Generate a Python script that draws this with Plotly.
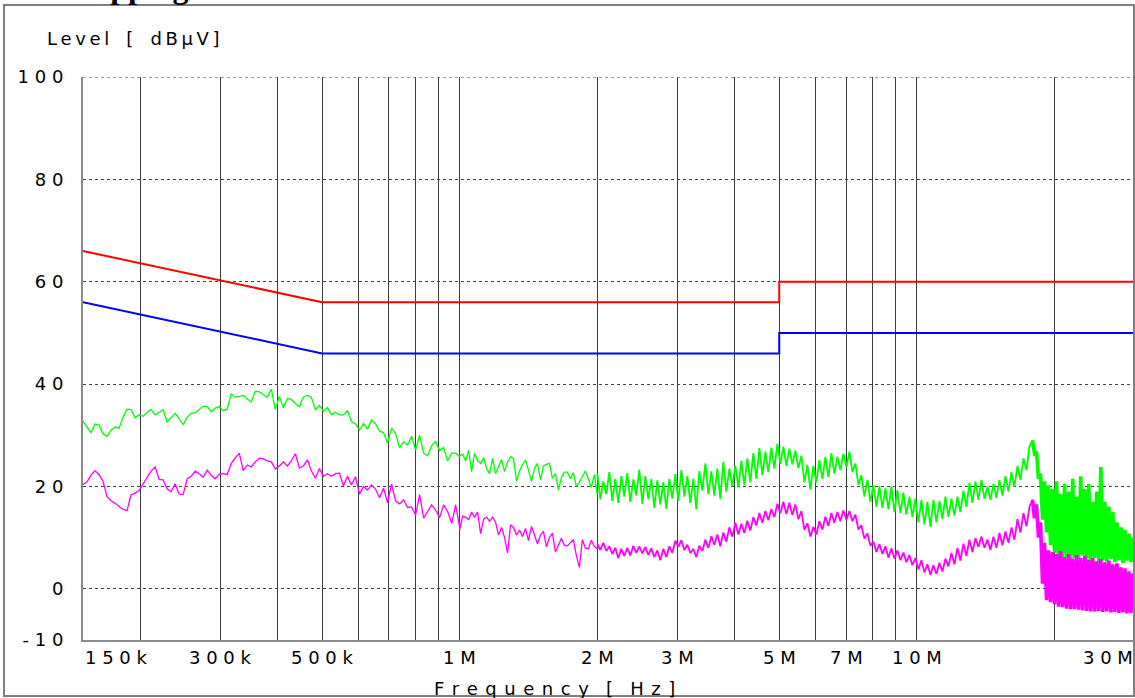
import numpy as np
import plotly.graph_objects as go

# ---------------- data ----------------
# Sweep segments: each list of levels is evenly spaced (log) between its edge frequencies
SEG_EDGES_HZ = [150e3, 1e6, 2e6, 17.9e6, 30e6]

green_150k_1M = [32.7, 31.5, 30.5, 32.2, 32.0, 30.3, 29.8, 31.0, 31.6, 31.4,
                 33.5, 35.1, 35.0, 33.4, 34.0, 33.7, 34.5, 35.0, 34.0, 34.5,
                 35.0, 32.6, 33.4, 34.3, 33.2, 32.1, 33.5, 34.3, 34.4, 35.0,
                 35.7, 35.6, 34.6, 35.3, 35.6, 34.8, 35.1, 38.1, 37.4, 37.6,
                 37.8, 37.1, 36.5, 38.6, 38.5, 37.9, 37.4, 39.0, 35.0, 37.6,
                 35.4, 37.2, 37.0, 36.2, 35.6, 37.5, 37.8, 37.4, 35.0, 35.8,
                 34.7, 35.4, 34.0, 34.5, 34.0, 34.0, 34.8, 32.7, 32.2, 31.0,
                 32.3, 31.2, 33.0, 32.2, 30.8, 30.5, 28.5, 31.4, 30.4, 27.6,
                 28.7, 28.1, 29.8, 27.1, 30.0, 26.5, 26.0, 28.0, 28.8, 27.0,
                 27.6, 25.0, 26.5, 26.5, 25.8]
green_1M_2M = [26.0, 26.3, 25.0, 27.1, 22.9, 26.5, 25.0, 24.5, 25.6, 23.5,
               22.5, 25.5, 22.5, 24.0, 25.2, 22.9, 24.8, 25.8, 25.5, 21.0,
               23.0, 24.2, 25.2, 23.2, 21.0, 23.5, 24.5, 21.3, 24.0, 24.3,
               24.5, 21.6, 22.5, 19.3, 21.7, 22.8, 22.8, 21.5, 22.7, 20.0,
               20.8, 21.9, 23.0, 21.5, 19.8, 22.3, 18.4]
green_2M_18M = [22.5, 17.5, 21.0, 18.5, 22.8, 17.2, 21.5, 16.8, 22.0, 18.0,
                22.6, 17.0, 21.4, 18.2, 23.3, 16.6, 22.0, 17.5, 21.5, 15.8,
                21.2, 16.5, 20.8, 15.6, 21.5, 17.6, 22.4, 17.2, 23.2, 18.0,
                22.0, 16.8, 21.5, 15.5, 23.0, 19.2, 24.5, 18.5, 23.0, 18.2,
                23.5, 17.5, 24.8, 19.0, 23.5, 20.0, 24.0, 19.8, 25.0, 20.2,
                25.5, 20.8, 26.5, 21.5, 27.5, 22.2, 26.8, 22.8, 27.6, 23.5,
                28.3, 24.4, 27.8, 24.0, 27.4, 24.3, 27.0, 23.6, 26.0, 20.8,
                24.2, 19.4, 24.0, 20.8, 25.2, 21.5, 25.8, 21.8, 26.5, 22.5,
                25.8, 23.2, 26.4, 23.8, 26.8, 22.8, 24.5, 20.3, 22.2, 18.0,
                21.3, 17.0, 20.2, 16.0, 20.0, 15.8, 19.6, 15.5, 20.0, 15.0,
                19.3, 14.8, 18.8, 14.5, 18.0, 14.0, 17.6, 13.0, 17.4, 12.6,
                17.0, 12.1, 17.4, 13.0, 17.2, 13.6, 18.0, 14.0, 17.6, 14.3,
                18.0, 15.0, 19.2, 16.0, 20.7, 16.8, 21.0, 17.4, 21.3, 17.6,
                20.0, 17.4, 20.5, 17.8, 21.3, 18.2, 22.0, 19.0, 22.8, 20.0,
                24.0, 21.3, 25.5, 23.2, 27.8, 29.0]
green_18M_30M = [29.0, 26.5, 26.8, 21.5, 22.5, 13.5, 21.0, 11.0, 20.2, 8.5,
                 19.5, 7.0, 21.0, 6.0, 18.5, 5.8, 20.5, 6.2, 19.0, 5.6,
                 21.5, 6.0, 18.0, 5.8, 22.0, 6.5, 19.5, 5.5, 20.5, 5.4,
                 17.0, 6.0, 19.0, 5.2, 23.8, 5.5, 17.0, 5.3, 16.0, 5.8,
                 15.0, 5.2, 13.0, 5.6, 12.0, 5.0, 11.5, 5.5, 10.8, 5.2,
                 10.0, 6.0]

magenta_150k_1M = [20.4, 20.9, 22.2, 23.1, 22.3, 21.0, 18.0, 17.2, 16.7, 16.1,
                   15.5, 15.3, 18.4, 18.7, 19.2, 20.5, 21.8, 23.0, 23.8, 21.4,
                   21.3, 19.5, 19.0, 20.5, 18.5, 18.4, 21.5, 22.0, 23.0, 22.5,
                   21.8, 23.2, 22.2, 21.5, 22.4, 22.5, 22.3, 24.5, 25.6, 26.5,
                   23.1, 24.2, 23.8, 24.8, 25.5, 25.4, 25.0, 24.8, 23.4, 24.0,
                   24.8, 24.0, 25.0, 26.4, 23.6, 24.0, 25.2, 23.0, 21.6, 23.5,
                   22.0, 22.5, 22.0, 22.5, 22.6, 20.1, 22.0, 20.3, 21.9, 18.5,
                   20.0, 19.3, 20.3, 19.5, 17.8, 19.7, 16.8, 20.5, 17.2, 16.6,
                   17.4, 15.9, 16.0, 14.4, 18.4, 13.8, 15.1, 16.4, 15.4, 13.9,
                   16.4, 15.1, 12.8, 16.4, 12.0]
magenta_1M_2M = [11.5, 14.2, 14.0, 13.5, 15.0, 14.0, 15.0, 10.8, 13.6, 14.0,
                 13.2, 14.0, 13.0, 10.5, 12.0, 10.0, 7.0, 12.5, 12.0, 10.5,
                 11.5, 10.2, 11.8, 9.4, 12.2, 10.5, 8.8, 10.5, 11.2, 8.2,
                 10.0, 10.9, 7.2, 8.5, 9.9, 8.5, 8.4, 9.0, 9.6, 6.5,
                 4.2, 9.6, 8.0, 7.8, 9.5, 8.3, 7.8]
magenta_2M_18M = [8.8, 7.6, 9.0, 7.4, 8.3, 6.8, 8.0, 6.0, 7.8, 6.4,
                  8.0, 6.5, 8.4, 7.0, 8.3, 6.9, 8.2, 6.6, 7.9, 6.2,
                  7.5, 5.6, 7.8, 6.2, 8.3, 7.0, 9.4, 8.2, 9.5, 7.6,
                  8.6, 7.0, 7.8, 6.2, 8.4, 7.4, 9.6, 8.0, 10.3, 8.6,
                  10.6, 8.3, 11.0, 9.2, 12.0, 10.2, 12.9, 10.6, 12.7, 10.9,
                  13.3, 11.4, 14.0, 12.4, 14.8, 12.9, 15.2, 13.4, 15.6, 14.0,
                  16.6, 14.8, 17.0, 14.6, 16.8, 14.4, 16.5, 13.6, 15.2, 11.5,
                  12.8, 10.2, 12.1, 10.6, 13.2, 11.6, 14.1, 12.3, 14.8, 12.9,
                  15.0, 13.2, 15.3, 13.5, 15.2, 13.2, 14.5, 11.6, 12.4, 9.8,
                  10.8, 8.4, 9.2, 7.2, 8.7, 6.8, 8.3, 6.1, 7.9, 5.9,
                  7.5, 5.6, 7.1, 5.2, 6.6, 4.6, 6.0, 3.8, 5.6, 3.2,
                  4.8, 2.7, 4.6, 2.9, 5.1, 3.4, 5.9, 4.4, 7.0, 4.8,
                  8.0, 5.5, 8.8, 6.4, 9.6, 7.2, 9.9, 8.2, 10.2, 8.0,
                  9.6, 7.6, 10.2, 8.0, 10.9, 8.5, 11.2, 9.0, 12.0, 9.6,
                  13.6, 11.0, 14.8, 12.2, 16.0, 17.4]
magenta_18M_30M = [17.4, 13.8, 16.5, 10.0, 13.0, 1.0, 9.0, -2.2, 7.5, -2.6,
                   7.2, -3.0, 6.8, -3.5, 7.4, -3.6, 6.2, -3.9, 6.8, -4.0,
                   5.9, -4.0, 6.6, -4.1, 6.0, -4.2, 6.5, -4.3, 5.6, -4.4,
                   6.0, -4.4, 5.4, -4.3, 5.8, -4.5, 5.2, -4.4, 5.5, -4.6,
                   4.8, -4.5, 5.0, -4.7, 4.2, -4.6, 4.0, -4.8, 3.4, -4.7,
                   3.0, -4.8]

qp_limit_hz = [150e3, 500e3, 5e6, 5e6, 30e6]
qp_limit_db = [66, 56, 56, 60, 60]
av_limit_hz = [150e3, 500e3, 5e6, 5e6, 30e6]
av_limit_db = [56, 46, 46, 50, 50]

x_grid_hz = [200e3, 300e3, 400e3, 500e3, 600e3, 700e3, 800e3, 900e3, 1e6,
             2e6, 3e6, 4e6, 5e6, 6e6, 7e6, 8e6, 9e6, 10e6, 20e6]
x_label_hz = [150e3, 300e3, 500e3, 1e6, 2e6, 3e6, 5e6, 7e6, 10e6, 30e6]
x_label_text = ["150k", "300k", "500k", "1M", "2M", "3M", "5M", "7M", "10M", "30M"]
y_tick_vals = [-10, 0, 20, 40, 60, 80, 100]
y_tick_text = ["-10", "0", "20", "40", "60", "80", "100"]

# ---------------- helpers ----------------
NB = "\u00a0"


def spaced(s, gap=NB, word_gap=NB * 3):
    out = []
    for w in s.split(" "):
        out.append(gap.join(list(w)))
    return word_gap.join(out)


def seg_x(i, vals):
    return np.geomspace(SEG_EDGES_HZ[i], SEG_EDGES_HZ[i + 1], len(vals))


FONT = "DejaVu Sans"
GREEN = "#00ff00"
MAGENTA = "#ff00ff"

fig = go.Figure()

fig.add_trace(go.Scatter(x=qp_limit_hz, y=qp_limit_db, mode="lines",
                         line=dict(color="#ff0000", width=2)))
fig.add_trace(go.Scatter(x=av_limit_hz, y=av_limit_db, mode="lines",
                         line=dict(color="#0000ff", width=2)))

# green (peak) trace
gx = np.concatenate([seg_x(0, green_150k_1M), seg_x(1, green_1M_2M)])
gy = green_150k_1M + green_1M_2M
fig.add_trace(go.Scatter(x=gx, y=gy, mode="lines", line=dict(color=GREEN, width=1.3)))
fig.add_trace(go.Scatter(x=seg_x(2, green_2M_18M), y=green_2M_18M, mode="lines",
                         line=dict(color=GREEN, width=1.8)))
fig.add_trace(go.Scatter(x=seg_x(3, green_18M_30M), y=green_18M_30M, mode="lines",
                         line=dict(color=GREEN, width=3.6)))

# magenta (average) trace
mx = np.concatenate([seg_x(0, magenta_150k_1M), seg_x(1, magenta_1M_2M)])
my = magenta_150k_1M + magenta_1M_2M
fig.add_trace(go.Scatter(x=mx, y=my, mode="lines", line=dict(color=MAGENTA, width=1.3)))
fig.add_trace(go.Scatter(x=seg_x(2, magenta_2M_18M), y=magenta_2M_18M, mode="lines",
                         line=dict(color=MAGENTA, width=1.8)))
fig.add_trace(go.Scatter(x=seg_x(3, magenta_18M_30M), y=magenta_18M_30M, mode="lines",
                         line=dict(color=MAGENTA, width=3.6)))

# geometry helpers (pixels -> paper)
L, R, T, B = 83, 1135, 77, 640
W, H = R - L, B - T


def px(xp):
    return (xp - L) / W


def py(yp):
    return (B - yp) / H


annotations = []
for f, t in zip(x_label_hz, x_label_text):
    anchor = "center"
    xv = np.log10(f)
    if f == x_label_hz[0]:
        anchor = "left"
    elif f == x_label_hz[-1]:
        anchor = "right"
    annotations.append(dict(x=xv, y=py(657), xref="x", yref="paper", text=spaced(t),
                            showarrow=False, xanchor=anchor, yanchor="middle",
                            font=dict(family=FONT, size=18, color="black")))

annotations.append(dict(x=px(45), y=py(38), xref="paper", yref="paper",
                        text=spaced("Level [ dBµV]", gap="\u2009", word_gap=NB * 3),
                        showarrow=False, xanchor="left", yanchor="middle",
                        font=dict(family=FONT, size=18, color="black")))
annotations.append(dict(x=px(554), y=py(688), xref="paper", yref="paper",
                        text=spaced("Frequency [ Hz]", gap=NB + "\u200a", word_gap=NB * 3),
                        showarrow=False, xanchor="center", yanchor="middle",
                        font=dict(family=FONT, size=18, color="black")))
annotations.append(dict(x=px(62), y=py(7), xref="paper", yref="paper",
                        text="<b>Mapping</b>", showarrow=False,
                        xanchor="left", yanchor="bottom",
                        font=dict(family="Liberation Serif", size=32, color="black")))

shapes = [
    dict(type="rect", xref="paper", yref="paper", x0=px(4), x1=px(1134), y0=py(696), y1=py(5),
         line=dict(color="#808080", width=2), fillcolor="rgba(0,0,0,0)", layer="above"),
    dict(type="line", xref="paper", yref="y", x0=0, x1=1, y0=100, y1=100,
         line=dict(color="#444444", width=1, dash="dot")),
]

fig.update_layout(
    width=1135, height=698,
    margin=dict(l=L, r=1135 - R, t=T, b=698 - B, pad=0),
    paper_bgcolor="white", plot_bgcolor="white",
    showlegend=False,
    font=dict(family=FONT, size=18, color="black"),
    annotations=annotations,
    shapes=shapes,
)
fig.update_xaxes(type="log", range=[np.log10(150e3), np.log10(30e6)],
                 tickvals=x_grid_hz, showticklabels=False, ticks="",
                 showgrid=True, gridcolor="#3c3c3c", gridwidth=1,
                 showline=True, linecolor="#8a8a8a", linewidth=2, zeroline=False)
fig.update_yaxes(range=[-10, 100], tickvals=y_tick_vals,
                 ticktext=[spaced(t) for t in y_tick_text],
                 showgrid=True, gridcolor="#444444", gridwidth=1, griddash="dot",
                 showline=True, linecolor="#8a8a8a", linewidth=2, zeroline=False,
                 ticks="", ticklabelstandoff=14,
                 tickfont=dict(family=FONT, size=18, color="black"))

fig.write_html("out.html",
               config={"displayModeBar": False},
               post_script="document.body.style.margin='0';document.body.style.padding='0';"
                           "document.body.style.overflow='hidden';")
